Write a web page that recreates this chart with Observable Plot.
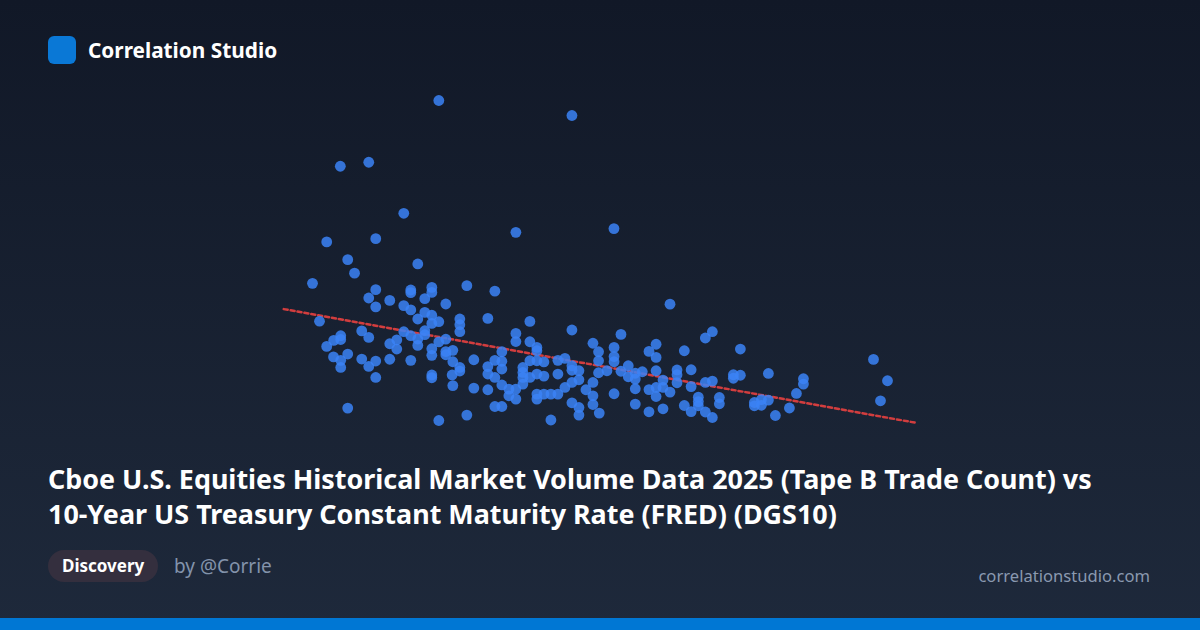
<!DOCTYPE html>
<html>
<head>
<meta charset="utf-8">
<script src="https://cdn.jsdelivr.net/npm/d3@7"></script>
<script src="https://cdn.jsdelivr.net/npm/@observablehq/plot@0.6"></script>
<style>
  html, body { margin: 0; padding: 0; }
  #card {
    position: relative; width: 1200px; height: 630px; overflow: hidden;
    background: linear-gradient(180deg, #111827 0%, #1e293b 100%);
    font-family: "Noto Sans", "Open Sans", sans-serif;
  }
  #chart { position: absolute; left: 0; top: 0; }
  #logo { position: absolute; left: 48px; top: 36px; width: 28px; height: 28px; border-radius: 6px; background: #0a78d6; }
  #brand { position: absolute; left: 88px; top: 40px; font-size: 20.8px; line-height: 20px; font-weight: 700; color: #ffffff; white-space: nowrap; }
  #title { position: absolute; left: 48px; top: 461px; width: 1120px; font-size: 26.9px; line-height: 35px; font-weight: 700; color: #ffffff; white-space: nowrap; }
  #pill { position: absolute; left: 48px; top: 550px; height: 32px; line-height: 32px; padding: 0 14px; border-radius: 16px; background: #342f3e; color: #fff; font-size: 17px; font-weight: 700; white-space: nowrap; }
  #by { position: absolute; left: 174px; top: 550px; line-height: 32px; font-size: 19px; color: #8393ab; white-space: nowrap; }
  #site { position: absolute; right: 50px; top: 566px; line-height: 20px; font-size: 16.6px; color: #8a99b0; white-space: nowrap; }
  #bar { position: absolute; left: 0; top: 618px; width: 1200px; height: 12px; background: #0077d4; }
</style>
</head>
<body>
<div id="card">
  <div id="chart"></div>
  <div id="logo"></div>
  <div id="brand">Correlation Studio</div>
  <div id="title">Cboe U.S. Equities Historical Market Volume Data 2025 (Tape B Trade Count) vs<br>10-Year US Treasury Constant Maturity Rate (FRED) (DGS10)</div>
  <div id="pill">Discovery</div>
  <div id="by">by @Corrie</div>
  <div id="site">correlationstudio.com</div>
  <div id="bar"></div>
</div>
<script>
// 10-Year Treasury rate (%), DGS10
const rate = [
  4.0387, 4.1717, 3.9403, 3.9687, 4.0037, 4.1157, 4.2137, 3.9267, 3.9757, 3.9477,
  4.0177, 3.9545, 3.9125, 3.9757, 4.0107, 4.0107, 4.0317, 4.0317, 4.0667, 4.0947,
  3.9687, 3.9897, 4.0247, 3.9757, 4.0037, 4.0107, 4.0457, 4.0247, 4.0317, 4.0177,
  4.0387, 4.0317, 4.0597, 4.0597, 4.0597, 4.0877, 4.1297, 3.9195, 4.1717, 4.1157,
  4.1157, 3.9617, 3.9687, 4.0037, 4.0107, 4.0247, 4.0247, 3.9407, 3.9407, 3.9337,
  3.9267, 3.9897, 3.9967, 3.9967, 4.0177, 4.0177, 4.0387, 4.0457, 4.0317, 4.0317,
  4.0457, 4.0457, 4.0527, 4.1297, 4.1367, 4.1367, 4.1017, 3.9335, 3.9477, 3.9407,
  3.9407, 3.9617, 3.9757, 3.9687, 3.9897, 4.0107, 4.0527, 4.0737, 4.0597, 4.0597,
  4.0877, 4.0877, 4.0947, 4.0947, 4.1017, 4.1017, 4.1227, 4.1227, 4.1227, 4.1297,
  4.1297, 4.1367, 4.1367, 4.1437, 4.1437, 4.1577, 4.1577, 4.1647, 4.1717, 4.1717,
  4.1787, 4.1717, 4.1787, 4.1927, 4.1983, 4.1983, 4.1983, 3.9757, 4.0317, 4.0317,
  4.0520, 4.0527, 4.0737, 4.0877, 4.1017, 4.1087, 4.1087, 4.1157, 4.1157, 4.1227,
  4.1367, 4.1367, 4.1437, 4.1507, 4.1577, 4.1647, 4.1857, 4.1927, 4.1927, 4.1927,
  4.1717, 4.1787, 4.1787, 4.0947, 4.1017, 4.0667, 4.0387, 3.9477, 4.1507, 4.1990,
  4.2697, 4.2207, 4.2558, 4.2487, 4.2558, 4.2138, 4.2138, 4.2138, 4.2840, 4.3050,
  4.3120, 4.3400, 4.2067, 4.2207, 4.2280, 4.2350, 4.2350, 4.2280, 4.2420, 4.2558,
  4.2627, 4.2487, 4.2558, 4.2558, 4.2627, 4.2697, 4.2767, 4.2767, 4.2767, 4.2908,
  4.2908, 4.3050, 4.3120, 4.3330, 4.3330, 4.3400, 4.2138, 4.2350, 4.2487, 4.2627,
  4.2840, 4.2908, 4.2980, 4.2980, 4.2980, 4.3050, 4.3120, 4.3190, 4.3190, 4.2350,
  4.3540, 4.3540, 4.3610, 4.3610, 4.3680, 4.3680, 4.4030, 4.4030, 4.3960, 4.3890,
  4.3750, 4.4730, 4.4870, 4.4800
];
// Tape B daily trade count (thousands)
const trades = [
  9000, 8850, 8343, 8383, 7873, 7683, 7720, 7587, 7620, 7410,
  7367, 7275, 7173, 7110, 7107, 7080, 7133, 7083, 7150, 7095,
  7027, 7003, 7020, 6938, 6950, 6908, 6967, 6883, 6855, 6817,
  6790, 6773, 6817, 6760, 6690, 6823, 6793, 6795, 6707, 6673,
  6592, 6698, 6633, 6690, 6650, 6700, 6660, 6650, 6612, 6604,
  6543, 6570, 6608, 6517, 6617, 6553, 6588, 6615, 6520, 6454,
  6492, 6460, 6504, 6590, 6533, 6500, 6490, 6438, 6467, 6404,
  6333, 6417, 6397, 6343, 6415, 6404, 6390, 6410, 6333, 6297,
  6342, 6267, 6404, 6233, 6395, 6317, 6333, 6283, 6233, 6400,
  6233, 6400, 6267, 6388, 6247, 6404, 6267, 6423, 6350, 6305,
  6300, 6183, 6210, 6575, 6490, 6400, 6280, 6233, 6258, 6230,
  6258, 6152, 6127, 6110, 6158, 6117, 6050, 6117, 6017, 6167,
  6067, 6017, 6067, 6067, 6067, 6133, 6110, 6183, 6050, 5963,
  5980, 5933, 5857, 5943, 5943, 5857, 5803, 5927, 5808, 5877,
  6965, 6663, 6565, 6493, 6433, 6533, 6442, 6390, 6500, 6627,
  6690, 6517, 6300, 6295, 6350, 6275, 6217, 6240, 6290, 6300,
  6207, 6112, 6133, 6043, 6133, 6087, 6308, 6260, 6180, 6310,
  6142, 6183, 6197, 6260, 6225, 6255, 6070, 5967, 5890, 5920,
  5953, 5892, 6036, 5992, 5950, 5888, 5833, 6033, 5970, 6120,
  5983, 5950, 6012, 5955, 6007, 6273, 6220, 6167, 6073, 5928,
  5853, 6413, 6200, 6000
];

const data = rate.map((r, i) => ({rate: r, trades: trades[i]}));

// least-squares trend line, extended 5% beyond the data range
const mx = d3.mean(rate), my = d3.mean(trades);
const sxy = d3.sum(data, d => (d.rate - mx) * (d.trades - my));
const sxx = d3.sum(data, d => (d.rate - mx) ** 2);
const slope = sxy / sxx, icpt = my - slope * mx;
const [x0, x1] = d3.extent(rate);
const pad = (x1 - x0) * 0.05;
const trend = [x0 - pad, x1 + pad].map(x => ({rate: x, trades: icpt + slope * x}));

const chart = Plot.plot({
  width: 1200,
  height: 450,
  marginLeft: 312,
  marginRight: 313,
  marginTop: 100,
  marginBottom: 30,
  style: {background: "transparent", overflow: "visible"},
  x: {domain: d3.extent(rate), axis: null},
  y: {domain: d3.extent(trades), axis: null},
  marks: [
    Plot.line(trend, {x: "rate", y: "trades", stroke: "#dc3f3f", strokeWidth: 2.5, strokeDasharray: "4,3", strokeOpacity: 0.95}),
    Plot.dot(data, {x: "rate", y: "trades", r: 5.4, fill: "#3b82f6", fillOpacity: 0.85, stroke: "none"})
  ]
});
document.getElementById("chart").appendChild(chart);
</script>
</body>
</html>
